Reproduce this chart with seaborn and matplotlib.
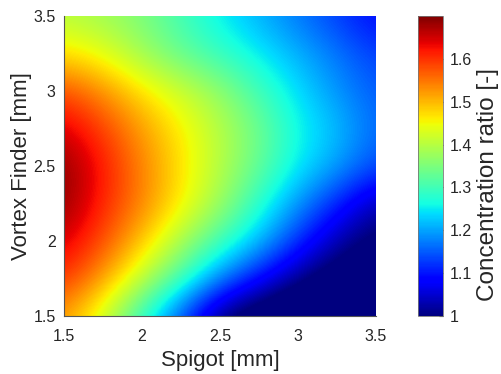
import numpy as np
import matplotlib
matplotlib.use('Agg')
import matplotlib.pyplot as plt
import seaborn as sns
from matplotlib.colors import Normalize
from matplotlib.cm import ScalarMappable

# Grid axes (mm)
spigot = [1.5, 1.75, 2.0, 2.25, 2.5, 2.75, 3.0, 3.25, 3.5]
vortex_finder = [1.5, 1.75, 2.0, 2.25, 2.5, 2.75, 3.0, 3.25, 3.5]

# Concentration ratio, one row per vortex-finder value (columns follow spigot)
ratio_vf_150 = [1.52, 1.42, 1.28, 1.14, 0.99, 0.94, 0.91, 0.88, 0.85]
ratio_vf_175 = [1.60, 1.52, 1.41, 1.30, 1.18, 1.09, 1.01, 0.96, 0.93]
ratio_vf_200 = [1.65, 1.58, 1.49, 1.39, 1.30, 1.22, 1.12, 1.03, 0.98]
ratio_vf_225 = [1.69, 1.61, 1.54, 1.46, 1.38, 1.28, 1.19, 1.11, 1.03]
ratio_vf_250 = [1.69, 1.62, 1.54, 1.47, 1.40, 1.33, 1.25, 1.20, 1.14]
ratio_vf_275 = [1.65, 1.59, 1.52, 1.46, 1.40, 1.34, 1.26, 1.22, 1.16]
ratio_vf_300 = [1.58, 1.53, 1.47, 1.42, 1.37, 1.30, 1.24, 1.19, 1.15]
ratio_vf_325 = [1.47, 1.44, 1.38, 1.33, 1.29, 1.25, 1.21, 1.17, 1.13]
ratio_vf_350 = [1.40, 1.38, 1.35, 1.30, 1.25, 1.21, 1.17, 1.13, 1.09]

xticks = [1.5, 2.0, 2.5, 3.0, 3.5]
xticklabels = ["1.5", "2", "2.5", "3", "3.5"]
yticks = [1.5, 2.0, 2.5, 3.0, 3.5]
yticklabels = ["1.5", "2", "2.5", "3", "3.5"]
cbar_ticks = [1.0, 1.1, 1.2, 1.3, 1.4, 1.5, 1.6]
cbar_ticklabels = ["1", "1.1", "1.2", "1.3", "1.4", "1.5", "1.6"]
cmin, cmax = 1.0, 1.70

sns.set_style("white")
plt.rcParams['font.family'] = ['Liberation Sans', 'DejaVu Sans']
text_col = '#262626'

Z = np.array([ratio_vf_150, ratio_vf_175, ratio_vf_200, ratio_vf_225, ratio_vf_250,
              ratio_vf_275, ratio_vf_300, ratio_vf_325, ratio_vf_350])

fig = plt.figure(figsize=(5.01, 3.74), dpi=100)
ax = fig.add_axes([0.128, 0.155, 0.622, 0.802])
dx = (spigot[1] - spigot[0]) / 2
dy = (vortex_finder[1] - vortex_finder[0]) / 2
ax.imshow(Z, origin='lower', cmap='jet', vmin=cmin, vmax=cmax,
          extent=[spigot[0] - dx, spigot[-1] + dx, vortex_finder[0] - dy, vortex_finder[-1] + dy],
          interpolation='bicubic', aspect='auto')
ax.set_xlim(spigot[0], spigot[-1])
ax.set_ylim(vortex_finder[0], vortex_finder[-1])
ax.set_xticks(xticks)
ax.set_xticklabels(xticklabels)
ax.set_yticks(yticks)
ax.set_yticklabels(yticklabels)
ax.tick_params(direction='in', length=3, labelsize=11.5, colors=text_col)
ax.tick_params(axis='x', pad=9)
ax.tick_params(axis='y', pad=6)
ax.set_xlabel("Spigot [mm]", fontsize=16, color=text_col, labelpad=5)
ax.set_ylabel("Vortex Finder [mm]", fontsize=16, color=text_col, labelpad=1)
for s in ['top', 'right']:
    ax.spines[s].set_visible(False)
for s in ['left', 'bottom']:
    ax.spines[s].set_color('#555555')
    ax.spines[s].set_linewidth(0.8)

cax = fig.add_axes([0.834, 0.155, 0.050, 0.802])
sm = ScalarMappable(norm=Normalize(vmin=cmin, vmax=cmax), cmap='jet')
cb = fig.colorbar(sm, cax=cax)
cb.set_ticks(cbar_ticks)
cb.set_ticklabels(cbar_ticklabels)
cb.ax.tick_params(direction='in', length=3, labelsize=11.5, colors=text_col, pad=5)
cb.outline.set_edgecolor('#777777')
cb.outline.set_linewidth(0.6)
cb.set_label("Concentration ratio [-]", fontsize=17.5, color=text_col)
lab = cb.ax.yaxis.label
lab.set_verticalalignment('center')
lab.set_horizontalalignment('center')
cb.ax.yaxis.set_label_coords(2.8, 0.44)

fig.savefig("out.png", dpi=100)
